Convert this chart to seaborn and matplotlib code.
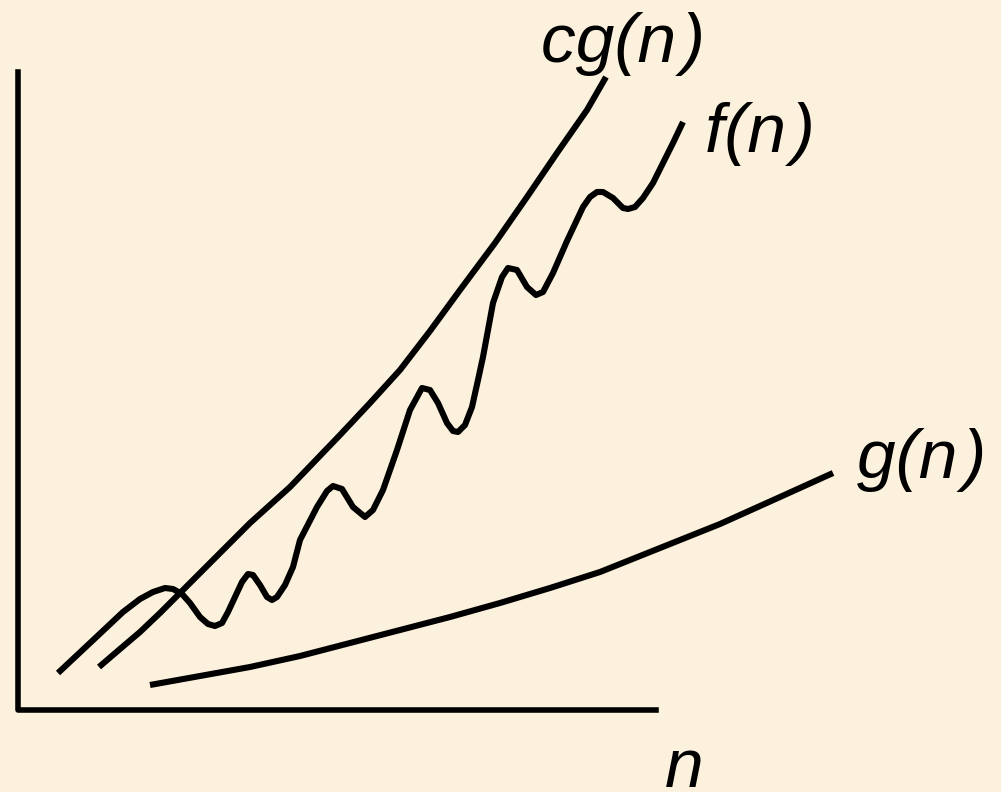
import pandas as pd
import seaborn as sns
import matplotlib.pyplot as plt

# points, in pixel space (y grows downwards)
cg_x = [99, 120, 140, 160, 180, 213, 250, 290, 315, 340, 370, 400, 430, 460,
        495, 527, 557, 587, 606]
cg_y = [667, 649, 632, 613, 593, 560, 523, 487, 461, 435, 403, 370, 331, 290,
        243, 197, 153, 110, 77]

f_x = [58, 90, 123, 140, 153, 165, 173, 182, 190, 200, 208, 215, 222, 228, 235,
       242, 248, 253, 260, 267, 272, 277, 285, 293, 300, 317, 327, 333, 342, 353,
       365, 373, 383, 397, 410, 422, 430, 438, 447, 453, 458, 465, 472, 478, 483,
       493, 502, 508, 517, 527, 536, 543, 553, 567, 583, 590, 597, 603, 613, 623,
       628, 635, 643, 653, 663, 673, 683]
f_y = [673, 643, 612, 599, 592, 588, 589, 594, 603, 617, 624, 626, 623, 612, 597,
       582, 574, 575, 585, 597, 600, 597, 585, 567, 540, 507, 491, 486, 489, 507,
       517, 510, 490, 450, 410, 388, 390, 403, 423, 431, 432, 425, 407, 380, 357,
       303, 277, 268, 270, 287, 295, 292, 273, 241, 207, 197, 192, 192, 198, 208,
       209, 207, 198, 183, 163, 143, 122]

g_x = [150, 200, 250, 300, 350, 400, 450, 500, 550, 600, 650, 720, 780, 833]
g_y = [685, 676, 667, 656, 643, 630, 617, 603, 588, 572, 552, 524, 497, 473]

axis_x = [18, 18, 656]
axis_y = [72, 710, 710]

labels = ["cg(n\u200a)", "f(n\u200a)", "g(n\u200a)", "n"]
label_pos = [(541, 62), (705, 152), (857, 478), (665, 787)]

bg = "#FCF1DC"
sns.set_theme(style="white", rc={"figure.facecolor": bg, "axes.facecolor": bg})
plt.rcParams["font.family"] = ["Liberation Sans", "DejaVu Sans"]

curves = pd.concat([
    pd.DataFrame({"x": cg_x, "y": cg_y, "curve": "cg"}),
    pd.DataFrame({"x": f_x, "y": f_y, "curve": "f"}),
    pd.DataFrame({"x": g_x, "y": g_y, "curve": "g"}),
])

fig = plt.figure(figsize=(10.01, 7.92), dpi=100)
ax = fig.add_axes([0, 0, 1, 1])

for name, d in curves.groupby("curve"):
    sns.lineplot(data=d, x="x", y="y", sort=False, estimator=None, color="black",
                 linewidth=4.4, ax=ax, solid_capstyle="butt", solid_joinstyle="round")

sns.lineplot(x=axis_x, y=axis_y, sort=False, estimator=None, color="black",
             linewidth=4.0, ax=ax, solid_capstyle="projecting")

for txt, (tx, ty) in zip(labels, label_pos):
    ax.text(tx, ty, txt, fontsize=50, fontstyle="italic", color="black",
            ha="left", va="baseline")

ax.set_xlim(0, 1001)
ax.set_ylim(792, 0)
ax.set_axis_off()

fig.savefig("out.png", dpi=100, facecolor=bg)
